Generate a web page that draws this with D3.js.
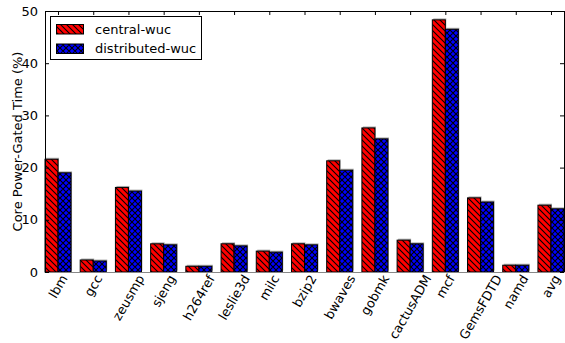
<!DOCTYPE html>
<html><head><meta charset="utf-8">
<script src="https://cdn.jsdelivr.net/npm/d3@7"></script>
<style>body{margin:0;background:#fff}svg{display:block}text{font-family:"DejaVu Sans",sans-serif;fill:#000}</style>
</head><body><svg id="c" width="565" height="343"></svg>
<script>
const categories = ["lbm","gcc","zeusmp","sjeng","h264ref","leslie3d","milc","bzip2","bwaves","gobmk","cactusADM","mcf","GemsFDTD","namd","avg"];
const centralWuc = [21.6,2.3,16.2,5.4,1.1,5.4,4.0,5.4,21.3,27.6,6.1,48.3,14.2,1.3,12.8];
const distributedWuc = [19.0,2.1,15.5,5.2,1.1,5.0,3.8,5.2,19.5,25.5,5.4,46.5,13.4,1.3,12.1];
const seriesNames = ["central-wuc","distributed-wuc"];
const yTicks = [0,10,20,30,40,50];
const yLabel = "Core Power-Gated Time (%)";

const svg = d3.select("#c");
const L=45,R=564,T=11,B=272;
const bw=0.37;
const x=d3.scaleLinear().domain([0,categories.length-1+2*bw]).range([L,R]);
const y=d3.scaleLinear().domain([0,50]).range([B,T]);

const defs=svg.append("defs");
const p1=defs.append("pattern").attr("id","hatchR").attr("patternUnits","userSpaceOnUse").attr("width",6).attr("height",6);
p1.append("rect").attr("width",6).attr("height",6).attr("fill","#ff0000");
p1.append("path").attr("d","M-1,-1L7,7M-4,2L2,8M4,-2L8,2").attr("stroke","#000").attr("stroke-width",1.1);
const p2=defs.append("pattern").attr("id","hatchB").attr("patternUnits","userSpaceOnUse").attr("width",6).attr("height",6);
p2.append("rect").attr("width",6).attr("height",6).attr("fill","#0000ff");
p2.append("path").attr("d","M-1,-1L7,7M-4,2L2,8M4,-2L8,2M7,-1L-1,7M2,-4L-4,2M8,4L4,8").attr("stroke","#000").attr("stroke-width",1.1);

const series=[{vals:centralWuc,fill:"url(#hatchR)",off:0},{vals:distributedWuc,fill:"url(#hatchB)",off:bw}];
series.forEach(s=>{
  svg.append("g").selectAll("rect").data(s.vals).join("rect")
    .attr("x",(d,i)=>x(i+s.off)+1).attr("y",d=>y(d)-1.5)
    .attr("width",x(bw)-x(0)).attr("height",d=>B-y(d))
    .attr("fill","#b0b0b0");
});
series.forEach(s=>{
  svg.append("g").selectAll("rect").data(s.vals).join("rect")
    .attr("x",(d,i)=>x(i+s.off)).attr("y",d=>y(d))
    .attr("width",x(bw)-x(0)).attr("height",d=>B-y(d))
    .attr("fill",s.fill).attr("stroke","#000").attr("stroke-width",1);
});

const fr=svg.append("g").attr("shape-rendering","crispEdges");
fr.append("line").attr("x1",L).attr("x2",L).attr("y1",T).attr("y2",B).attr("stroke","#000");
fr.append("line").attr("x1",R).attr("x2",R).attr("y1",T).attr("y2",B).attr("stroke","#000");
fr.append("line").attr("x1",L).attr("x2",R).attr("y1",T).attr("y2",T).attr("stroke","#000");
fr.append("line").attr("x1",L).attr("x2",R).attr("y1",B).attr("y2",B).attr("stroke","#888");

const yAxisL=d3.axisLeft(y).tickValues(yTicks).tickSizeInner(-4).tickSizeOuter(0).tickPadding(7);
const gy=svg.append("g").attr("transform",`translate(${L},0)`).call(yAxisL);
gy.select(".domain").remove();
gy.selectAll("text").attr("font-size",13).attr("font-family","DejaVu Sans");
const yAxisR=d3.axisRight(y).tickValues(yTicks).tickSizeInner(-4).tickSizeOuter(0).tickFormat("");
const gyr=svg.append("g").attr("transform",`translate(${R},0)`).call(yAxisR);
gyr.select(".domain").remove();
const gt=svg.append("g").attr("transform",`translate(0,${T})`)
  .call(d3.axisTop(x).tickValues(categories.map((c,i)=>i+bw)).tickSizeInner(-4).tickSizeOuter(0).tickFormat(""));
gt.select(".domain").remove();

const gl=svg.append("g");
categories.forEach((c,i)=>{
  const t=gl.append("text").text(c).attr("font-size",12.8).attr("text-anchor","middle").attr("dominant-baseline","central");
  const w=t.node().getComputedTextLength(), h=12;
  const a=Math.PI/3;
  const H=w*Math.sin(a)+h*Math.cos(a);
  const cx=x(i+bw), cy=B+1+H/2;
  t.attr("transform",`translate(${cx},${cy}) rotate(-60)`);
});

svg.append("text").text(yLabel).attr("font-size",13).attr("text-anchor","middle").attr("dominant-baseline","central")
  .attr("transform",`translate(17,${(T+B)/2}) rotate(-90)`);

const lg=svg.append("g");
lg.append("rect").attr("x",50.5).attr("y",16.5).attr("width",151).attr("height",43).attr("fill","#fff").attr("stroke","#000");
const lf=["url(#hatchR)","url(#hatchB)"];
seriesNames.forEach((n,k)=>{
  lg.append("rect").attr("x",56.5).attr("y",24.5+k*19.5).attr("width",27).attr("height",9.5).attr("fill",lf[k]).attr("stroke","#000");
  lg.append("text").text(n).attr("x",95).attr("y",29+k*19.5).attr("font-size",13).attr("dominant-baseline","central");
});
</script></body></html>
